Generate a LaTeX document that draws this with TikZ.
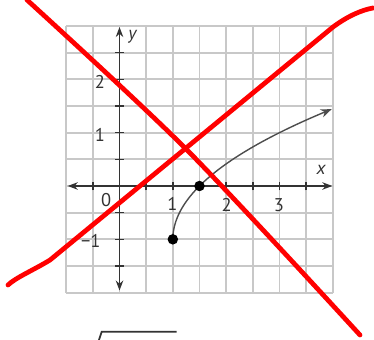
\documentclass[tikz,border=0pt]{standalone}
\usepackage{fontspec}
\setmainfont{PT Sans}
\usetikzlibrary{arrows.meta}
\definecolor{gridgray}{HTML}{C8C8C8}
\definecolor{axisink}{HTML}{333333}
\definecolor{curveink}{HTML}{4D4D4D}
\definecolor{labelink}{HTML}{333333}
\definecolor{crossred}{HTML}{FF0000}
\tikzset{
  grid lines/.style={draw=gridgray,line width=1pt},
  axis/.style={
    draw=axisink,
    line width=0.8pt,
    {Stealth[length=2mm,width=1.5mm]}-{Stealth[length=2mm,width=1.5mm]}
  },
  axis tick/.style={draw=axisink,line width=0.8pt},
  graph curve/.style={
    draw=curveink,
    line width=0.8pt,
    -{Stealth[length=2.2mm,width=1.7mm]}
  },
  point/.style={circle,fill=black,inner sep=0pt,minimum size=2.1mm},
  num label/.style={
    inner sep=0pt,
    font=\fontsize{10.5}{12}\selectfont,
    text=labelink
  },
  axis name/.style={num label,font=\fontsize{10.5}{12}\selectfont\itshape},
  cross stroke/.style={
    draw=crossred,
    line width=2.7pt,
    line cap=round,
    line join=round
  },
  radical bar/.style={draw=axisink,line width=1pt}
}

\begin{document}
\begin{tikzpicture}[x=1.0667cm,y=1.0667cm]
  \useasboundingbox (-2.241,-2.8875) rectangle (4.772,3.4875);

  % grid and axes
  \draw[grid lines] (-1,-2) grid[step=0.5] (4,3);
  \draw[axis] (-0.97,0) -- (3.99,0);
  \draw[axis] (0,-1.96) -- (0,2.98);
  \foreach \t in {-0.5,0.5,1,1.5,2,2.5,3,3.5}
    \draw[axis tick] (\t,-0.08) -- (\t,0.08);
  \foreach \t in {-1.5,-1,-0.5,0.5,1,1.5,2,2.5}
    \draw[axis tick] (-0.08,\t) -- (0.08,\t);

  \node[axis name] (ylab) at (0.24,2.8) {y};
  \node[axis name] (xlab) at (3.78,0.3) {x};
  \node[num label] (origin) at (-0.25,-0.27) {0};
  \node[num label] (xone) at (0.99,-0.34) {1};
  \node[num label] (xtwo) at (2.01,-0.36) {2};
  \node[num label] (xthree) at (2.99,-0.36) {3};
  \node[num label] (ytwo) at (-0.37,1.95) {2};
  \node[num label] (yone) at (-0.37,0.96) {1};
  \node[num label] (yminus) at (-0.54,-1.03) {−1};

  % square root graph
  \draw[graph curve] plot[domain=0:2.441,samples=60,smooth]
    ({1+\x*\x/2},{\x-1});
  \node[point] (start) at (1,-1) {};
  \node[point] (xcut) at (1.5,0) {};

  % top of the next formula
  \draw[radical bar] (-0.39,-2.9) -- (-0.334,-2.732) -- (1.072,-2.732);

  % crossed out
  \draw[cross stroke] plot[smooth] coordinates {
    (-1.734,3.488) (1.266,0.675) (4.509,-2.794)};
  \draw[cross stroke] (-2.091,-1.856)
    .. controls (-1.95,-1.72) and (-1.6,-1.57) .. (-1.303,-1.388)
    -- (4.003,2.981)
    .. controls (4.3,3.2) and (4.55,3.3) .. (4.753,3.338);
\end{tikzpicture}
\end{document}
